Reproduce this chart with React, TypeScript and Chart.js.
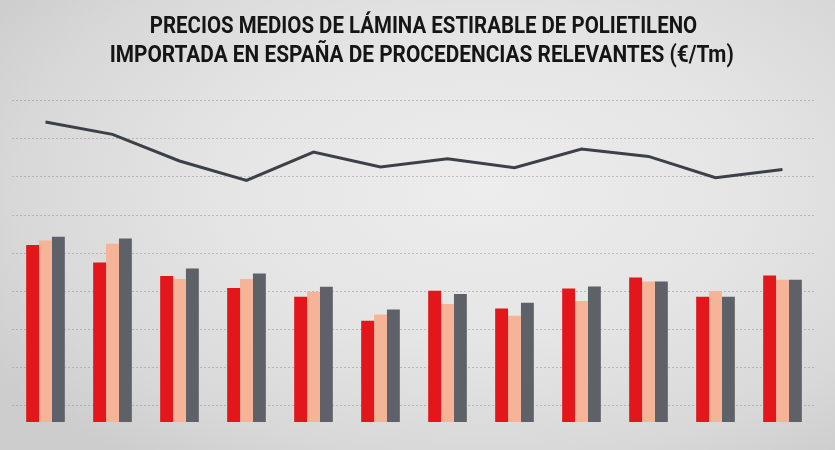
import { useEffect, useRef } from "react";
import { Chart, ChartOptions, registerables } from "chart.js";

Chart.register(...registerables);

// Periods (not labelled in the picture)
const periods = ["1", "2", "3", "4", "5", "6", "7", "8", "9", "10", "11", "12"];

// €/Tm
const seriesA = [885, 798, 730, 670, 626, 506, 656, 568, 668, 723, 626, 733];
const seriesB = [908, 891, 715, 715, 651, 538, 590, 531, 605, 703, 655, 711];
const seriesC = [926, 918, 768, 743, 676, 563, 640, 596, 678, 703, 626, 711];
const lineSeries = [1500, 1438, 1305, 1208, 1350, 1275, 1316, 1271, 1365, 1328, 1221, 1263];

const titleLines = [
  "PRECIOS MEDIOS DE LÁMINA ESTIRABLE DE POLIETILENO",
  "IMPORTADA EN ESPAÑA DE PROCEDENCIAS RELEVANTES (€/Tm)",
];
const titleScale = [0.852, 0.868];
const titleCenter = [423.5, 421.7];

export default function App() {
  const chartRef = useRef<HTMLCanvasElement>(null);
  const chartInstance = useRef<Chart | null>(null);

  useEffect(() => {
    if (!chartRef.current) return;
    if (chartInstance.current) chartInstance.current.destroy();
    const ctx = chartRef.current.getContext("2d");
    if (!ctx) return;

    const options: ChartOptions = {
      responsive: false,
      maintainAspectRatio: false,
      animation: false,
      layout: { padding: { top: 100.5, bottom: 28, left: 12, right: 19 } },
      plugins: {
        legend: { display: false },
        tooltip: { enabled: false },
      },
      scales: {
        x: {
          display: false,
          offset: true,
        },
        y: {
          display: false,
          min: 0,
          max: 1607.5,
        },
        grid: {
          type: "linear",
          position: "left",
          min: -0.419,
          max: 8,
          ticks: { display: false, stepSize: 1 },
          grid: {
            drawTicks: false,
            lineWidth: 1,
            color: (c: any) =>
              Number.isInteger(c.tick?.value) ? "rgba(150,150,150,0.55)" : "rgba(0,0,0,0)",
          },
          border: { display: false, dash: [2, 2] },
        },
      },
    };

    chartInstance.current = new Chart(ctx, {
      type: "bar",
      data: {
        labels: periods,
        datasets: [
          {
            type: "line",
            label: "Media",
            data: lineSeries,
            borderColor: "#3c4048",
            borderWidth: 3,
            pointRadius: 0,
            tension: 0,
            yAxisID: "y",
            order: 0,
          },
          {
            label: "A",
            data: seriesA,
            backgroundColor: "#e3161c",
            categoryPercentage: 0.577,
            barPercentage: 1,
            yAxisID: "y",
            order: 1,
          },
          {
            label: "B",
            data: seriesB,
            backgroundColor: "#f5b397",
            categoryPercentage: 0.577,
            barPercentage: 1,
            yAxisID: "y",
            order: 1,
          },
          {
            label: "C",
            data: seriesC,
            backgroundColor: "#5e6167",
            categoryPercentage: 0.577,
            barPercentage: 1,
            yAxisID: "y",
            order: 1,
          },
        ],
      } as any,
      options,
    });

    return () => {
      if (chartInstance.current) chartInstance.current.destroy();
    };
  }, []);

  return (
    <div
      style={{
        position: "fixed",
        left: 0,
        top: 0,
        width: 835,
        height: 450,
        overflow: "hidden",
        background:
          "radial-gradient(ellipse 70% 75% at 58% 42%, #ededed 0%, #e5e5e5 45%, #d8d8d8 80%, #cdcdcd 100%)",
      }}
    >
      <div
        style={{
          position: "absolute",
          left: 0,
          top: 11,
          width: 844,
          fontFamily: "'Liberation Sans Narrow', 'Roboto', sans-serif",
          fontWeight: 700,
          fontSize: 24,
          lineHeight: "29px",
          color: "#151515",
          whiteSpace: "nowrap",
        }}
      >
        {titleLines.map((t, i) => (
          <div
            key={t}
            style={{
              width: titleCenter[i] * 2,
              textAlign: "center",
              transform: `scaleX(${titleScale[i]})`,
              transformOrigin: `${titleCenter[i]}px 0`,
            }}
          >
            {t}
          </div>
        ))}
      </div>
      <canvas
        ref={chartRef}
        width={835}
        height={450}
        style={{ position: "absolute", left: 0, top: 0 }}
      ></canvas>
    </div>
  );
}
